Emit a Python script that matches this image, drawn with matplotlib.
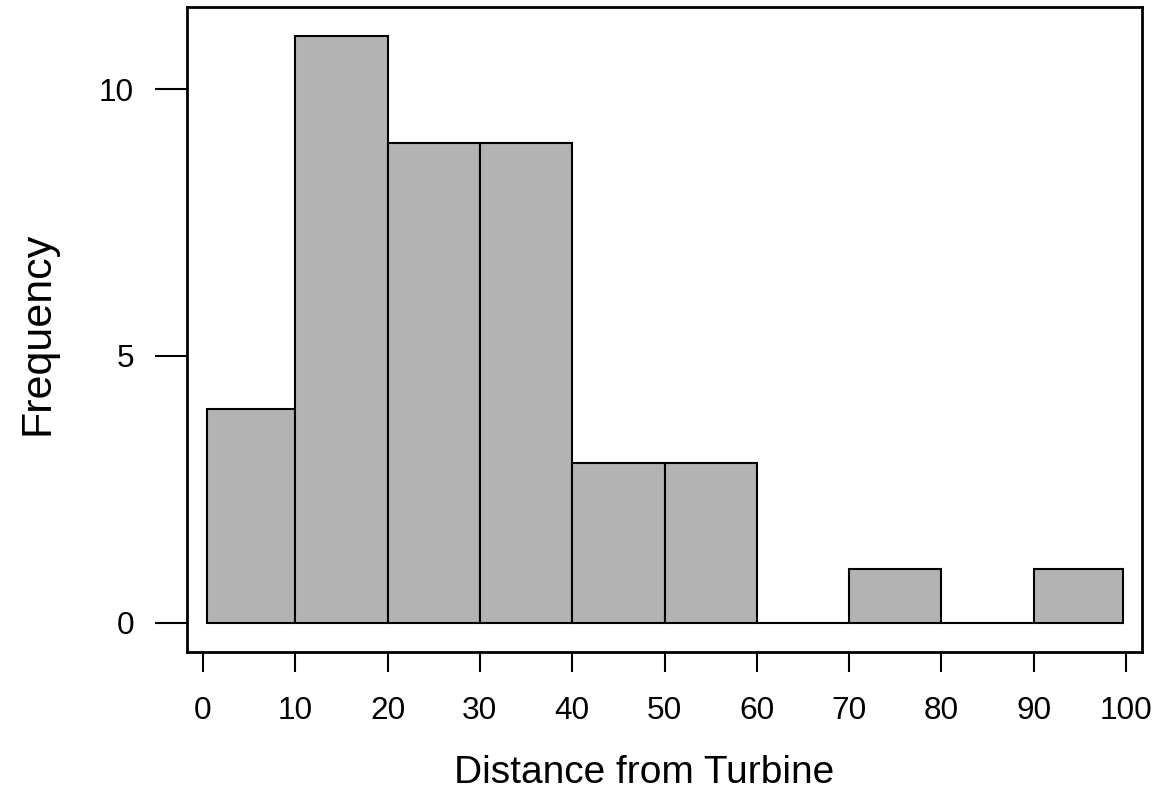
import numpy as np
import matplotlib
matplotlib.use("Agg")
import matplotlib.pyplot as plt

# histogram data (bin edges and counts)
bin_edges = [0.4, 10, 20, 30, 40, 50, 60, 70, 80, 90, 99.7]
counts = [4, 11, 9, 9, 3, 3, 0, 1, 0, 1]
x_ticks = [0, 10, 20, 30, 40, 50, 60, 70, 80, 90, 100]
y_ticks = [0, 5, 10]

plt.rcParams['font.family'] = ['Liberation Sans', 'DejaVu Sans']

fig = plt.figure(figsize=(11.56, 7.94), dpi=100)
ax = fig.add_axes([187 / 1156, 1 - 652 / 794, 955 / 1156, 645 / 794])

edges = np.array(bin_edges)
ax.bar(edges[:-1], counts, width=np.diff(edges), align='edge',
       color='#b3b3b3', edgecolor='black', linewidth=1.5)

ax.set_xlim(-1.73, 101.73)
ax.set_ylim(-0.55, 11.54)
ax.set_xticks(x_ticks)
ax.set_yticks(y_ticks)
ax.tick_params(axis='x', length=14.5, width=1.5, labelsize=22.7, pad=17)
ax.tick_params(axis='y', length=23, width=1.5, labelsize=22.7, pad=15)

for s in ax.spines.values():
    s.set_linewidth(2)

ax.set_xlabel('Distance from Turbine', fontsize=28)
ax.set_ylabel('Frequency', fontsize=31)
ax.xaxis.set_label_coords(0.479, -0.16)
ax.yaxis.set_label_coords(-0.136, 0.494)

fig.savefig('out.png', dpi=100)
